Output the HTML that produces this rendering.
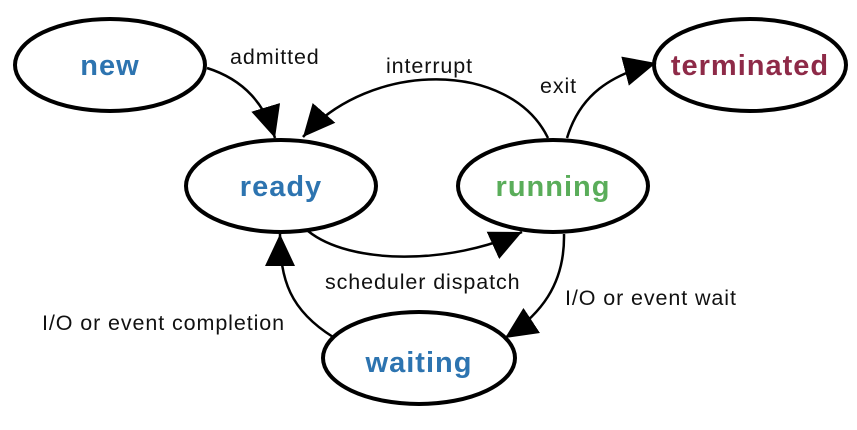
<!DOCTYPE html>
<html><head><meta charset="utf-8"><style>
html,body{margin:0;padding:0;background:#fff;}
svg{display:block;}
.n{font-family:"Liberation Sans",sans-serif;font-weight:bold;font-size:29px;letter-spacing:1px;text-anchor:middle;}
.l{font-family:"Liberation Sans",sans-serif;font-size:21.5px;letter-spacing:0.9px;fill:#111;}
</style></head><body>
<svg width="857" height="430" viewBox="0 0 857 430" xmlns="http://www.w3.org/2000/svg">
<defs>
<marker id="a" markerUnits="userSpaceOnUse" markerWidth="36" markerHeight="32" refX="32" refY="15" orient="auto">
<path d="M0,0 L32,15 L0,30 Z" fill="#000"/>
</marker>
</defs>
<g fill="#fff" stroke="#000" stroke-width="4">
<ellipse cx="110" cy="65" rx="95" ry="46"/>
<ellipse cx="281" cy="186" rx="95" ry="46"/>
<ellipse cx="553" cy="186" rx="95" ry="46"/>
<ellipse cx="750" cy="65" rx="96" ry="46"/>
<ellipse cx="419" cy="358" rx="96" ry="46"/>
</g>
<g fill="none" stroke="#000" stroke-width="2.5" marker-end="url(#a)">
<path d="M207,68 C245,80 265,105 275,138"/>
<path d="M548,138 C510,60 370,60 303,137"/>
<path d="M567,138 C580,95 610,75 656,63"/>
<path d="M308,231 C350,265 450,265 522,232"/>
<path d="M564,234 C565,285 540,315 505,338"/>
<path d="M333,337 C290,310 280,280 280,234"/>
</g>
<text class="n" x="110" y="75" fill="#2d74b0">new</text>
<text class="n" x="281" y="196" fill="#2d74b0">ready</text>
<text class="n" x="553" y="196" fill="#5aad5a">running</text>
<text class="n" x="750" y="75" fill="#8e2a48">terminated</text>
<text class="n" x="419" y="372" fill="#2d74b0">waiting</text>
<text class="l" x="230" y="64">admitted</text>
<text class="l" x="386" y="73">interrupt</text>
<text class="l" x="540" y="93">exit</text>
<text class="l" x="325" y="289">scheduler dispatch</text>
<text class="l" x="565" y="305">I/O or event wait</text>
<text class="l" x="42" y="330">I/O or event completion</text>
</svg>
</body></html>
